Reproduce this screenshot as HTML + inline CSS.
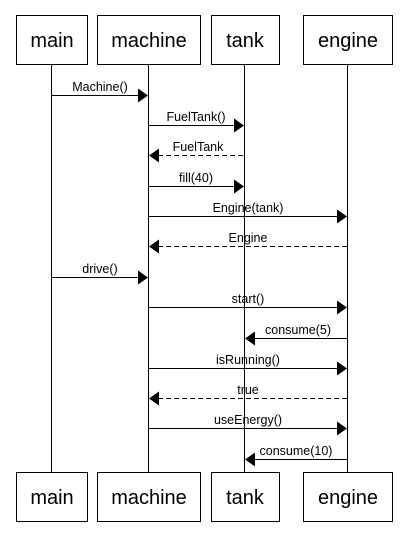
<!DOCTYPE html>
<html><head><style>body{margin:0;background:#fff}</style></head><body>
<svg width="407" height="545" xmlns="http://www.w3.org/2000/svg" font-family="Liberation Sans, Arial, sans-serif">
<rect width="407" height="545" fill="#fff"/>
<g stroke="#000" stroke-width="1">
<line x1="51.5" y1="64" x2="51.5" y2="472"/>
<line x1="148.5" y1="64" x2="148.5" y2="472"/>
<line x1="244.5" y1="64" x2="244.5" y2="472"/>
<line x1="347.5" y1="64" x2="347.5" y2="472"/>
</g>
<g fill="#fff" stroke="#000">
<rect x="16.5" y="15.5" width="71" height="49"/><rect x="97.5" y="15.5" width="103" height="49"/>
<rect x="211.5" y="15.5" width="68" height="49"/><rect x="303.5" y="15.5" width="89" height="49"/>
<rect x="16.5" y="472.5" width="71" height="49"/><rect x="97.5" y="472.5" width="103" height="49"/>
<rect x="211.5" y="472.5" width="68" height="49"/><rect x="303.5" y="472.5" width="89" height="49"/>
</g>
<g font-size="20" text-anchor="middle">
<text x="52" y="47">main</text><text x="149" y="47">machine</text><text x="245" y="47">tank</text><text x="348" y="47">engine</text>
<text x="52" y="504">main</text><text x="149" y="504">machine</text><text x="245" y="504">tank</text><text x="348" y="504">engine</text>
</g>
<g stroke="#000">
<line x1="51.5" y1="95.5" x2="139" y2="95.5"/>
<line x1="148.5" y1="125.5" x2="235" y2="125.5"/>
<line x1="158" y1="155.5" x2="244.5" y2="155.5" stroke-dasharray="5,3"/>
<line x1="148.5" y1="186.5" x2="235" y2="186.5"/>
<line x1="148.5" y1="216.5" x2="338" y2="216.5"/>
<line x1="158" y1="246.5" x2="347.5" y2="246.5" stroke-dasharray="5,3"/>
<line x1="51.5" y1="277.5" x2="139" y2="277.5"/>
<line x1="148.5" y1="307.5" x2="338" y2="307.5"/>
<line x1="254" y1="338.5" x2="347.5" y2="338.5"/>
<line x1="148.5" y1="368.5" x2="338" y2="368.5"/>
<line x1="158" y1="398.5" x2="347.5" y2="398.5" stroke-dasharray="5,3"/>
<line x1="148.5" y1="428.5" x2="338" y2="428.5"/>
<line x1="254" y1="459.5" x2="347.5" y2="459.5"/>
</g>
<g fill="#000">
<polygon points="138,88.5 148,95.5 138,102.5"/>
<polygon points="234,118.5 244,125.5 234,132.5"/>
<polygon points="159,148.5 149,155.5 159,162.5"/>
<polygon points="234,179.5 244,186.5 234,193.5"/>
<polygon points="337,209.5 347,216.5 337,223.5"/>
<polygon points="159,239.5 149,246.5 159,253.5"/>
<polygon points="138,270.5 148,277.5 138,284.5"/>
<polygon points="337,300.5 347,307.5 337,314.5"/>
<polygon points="255,331.5 245,338.5 255,345.5"/>
<polygon points="337,361.5 347,368.5 337,375.5"/>
<polygon points="159,391.5 149,398.5 159,405.5"/>
<polygon points="337,421.5 347,428.5 337,435.5"/>
<polygon points="255,452.5 245,459.5 255,466.5"/>
</g>
<g font-size="12.5" text-anchor="middle">
<text x="100" y="91">Machine()</text>
<text x="196" y="121">FuelTank()</text>
<text x="198" y="151">FuelTank</text>
<text x="196" y="182">fill(40)</text>
<text x="248" y="212">Engine(tank)</text>
<text x="248" y="242">Engine</text>
<text x="100" y="273">drive()</text>
<text x="248" y="303">start()</text>
<text x="298" y="334">consume(5)</text>
<text x="248" y="364">isRunning()</text>
<text x="248" y="394">true</text>
<text x="248" y="424">useEnergy()</text>
<text x="296" y="455">consume(10)</text>
</g>
</svg>
</body></html>
